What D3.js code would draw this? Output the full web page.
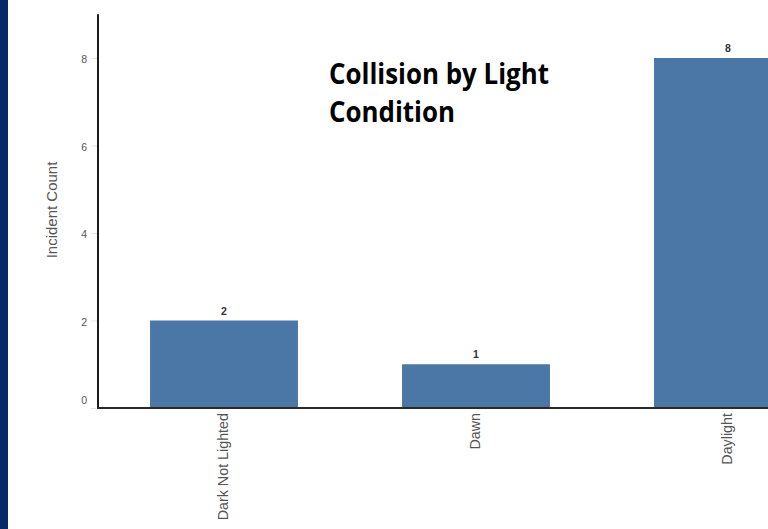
<!DOCTYPE html>
<html>
<head>
<meta charset="utf-8">
<script src="https://cdn.jsdelivr.net/npm/d3@7/dist/d3.min.js"></script>
<style>
  html, body { margin: 0; padding: 0; background: #fff; overflow: hidden; }
  svg { display: block; }
</style>
</head>
<body>
<svg id="chart" width="768" height="529"></svg>
<script>
const categories = ["Dark Not Lighted", "Dawn", "Daylight"];
const counts = [2, 1, 8];
const yTicks = [0, 2, 4, 6, 8];
const titleLines = ["Collision by Light", "Condition"];
const yAxisTitle = "Incident Count";

const W = 768, H = 529;
const svg = d3.select("#chart");

// left navy strip
svg.append("rect").attr("x", 0).attr("y", 0).attr("width", 8).attr("height", H).attr("fill", "#062a68");

const x = d3.scaleBand().domain(categories).range([98, 854]).paddingInner(0.413).paddingOuter(0.2065);
const y = d3.scaleLinear().domain([0, 8]).range([408, 58]);

// y axis
const yAxis = svg.append("g").attr("transform", "translate(98,0)")
  .call(d3.axisLeft(y).tickValues(yTicks).tickSize(7).tickPadding(4).tickFormat(d3.format("d")));
yAxis.select(".domain").remove();
yAxis.selectAll(".tick line").attr("stroke", "#e4e4e4");
yAxis.selectAll(".tick text")
  .attr("font-family", "Liberation Sans, Arial, sans-serif")
  .attr("font-size", 10.5)
  .attr("fill", "#555")
  .attr("dy", d => d === 0 ? "-0.45em" : "0.45em");

// bars
svg.append("g").selectAll("rect").data(counts).join("rect")
  .attr("x", (d, i) => x(categories[i]))
  .attr("y", d => y(d))
  .attr("width", x.bandwidth())
  .attr("height", d => y(0) - y(d))
  .attr("fill", "#4b77a6");

// value labels
svg.append("g").selectAll("text").data(counts).join("text")
  .attr("x", (d, i) => x(categories[i]) + x.bandwidth() / 2)
  .attr("y", d => y(d) - 6)
  .attr("text-anchor", "middle")
  .attr("font-family", "Liberation Sans, Arial, sans-serif")
  .attr("font-weight", "bold")
  .attr("font-size", 10.5)
  .attr("fill", "#333")
  .text(d => d);

// axis lines
svg.append("line")
  .attr("x1", 98).attr("x2", 98)
  .attr("y1", y(9)).attr("y2", y(0) + 1)
  .attr("stroke", "#1a1a1a").attr("stroke-width", 2);
svg.append("line")
  .attr("x1", x.range()[0] - 1).attr("x2", x.range()[1])
  .attr("y1", y(0)).attr("y2", y(0))
  .attr("stroke", "#2a2a2a").attr("stroke-width", 2);

// x category labels (rotated)
svg.append("g").selectAll("text").data(categories).join("text")
  .attr("transform", d => `translate(${x(d) + x.bandwidth() / 2 + 4},413) rotate(-90)`)
  .attr("text-anchor", "end")
  .attr("font-family", "Liberation Sans, Arial, sans-serif")
  .attr("font-size", 14.3)
  .attr("fill", "#555")
  .text(d => d);

// y axis title
svg.append("text")
  .attr("transform", "translate(57,210) rotate(-90)")
  .attr("text-anchor", "middle")
  .attr("font-family", "Liberation Sans, Arial, sans-serif")
  .attr("font-size", 15)
  .attr("fill", "#555")
  .text(yAxisTitle);

// title
const titleG = svg.append("g");
const title = titleG.append("text")
  .attr("font-family", "Open Sans, Lato, sans-serif")
  .attr("font-weight", "bold")
  .attr("font-size", 28)
  .attr("fill", "#000");
title.selectAll("tspan").data(titleLines).join("tspan")
  .attr("x", 0)
  .attr("y", (d, i) => i * 38)
  .text(d => d);
const firstW = title.select("tspan").node().getComputedTextLength();
titleG.attr("transform", `translate(329,84) scale(${220 / firstW},1)`);
</script>
</body>
</html>
